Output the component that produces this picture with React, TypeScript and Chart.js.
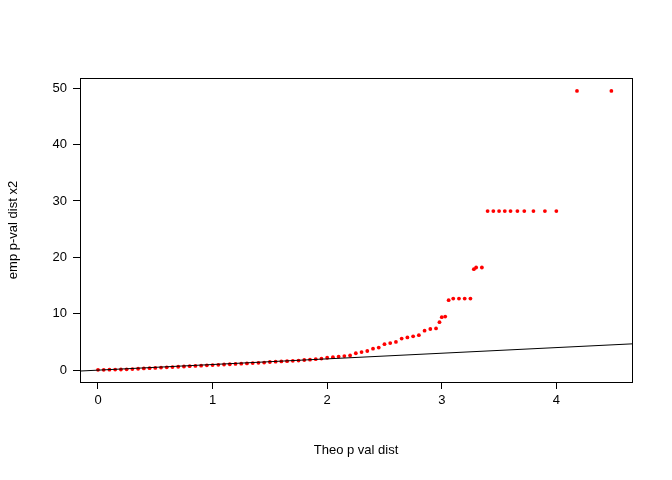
import React, { useEffect, useRef } from "react";
import { Chart, registerables } from "chart.js";

Chart.register(...registerables);

const theo = [
  0, 0.05, 0.1, 0.15, 0.2, 0.25, 0.3, 0.35, 0.4, 0.45, 0.5, 0.55, 0.6, 0.65, 0.7, 0.75, 0.8, 0.85, 0.9, 0.95,
  1.0, 1.05, 1.1, 1.15, 1.2, 1.25, 1.3, 1.35, 1.4, 1.45, 1.5, 1.55, 1.6, 1.65, 1.7, 1.75, 1.8, 1.85, 1.9, 1.95,
  2.0, 2.05, 2.1, 2.15, 2.2, 2.25, 2.3, 2.35, 2.4, 2.45, 2.5, 2.55, 2.6, 2.65, 2.7, 2.75, 2.8, 2.85, 2.9, 2.95,
  2.98, 3.0, 3.03, 3.06, 3.1, 3.15, 3.2, 3.25, 3.28, 3.3, 3.35,
  3.4, 3.45, 3.5, 3.55, 3.6, 3.66, 3.72, 3.8, 3.9, 4.0, 4.18, 4.48,
];
const emp = [
  0.05, 0.05, 0.08, 0.1, 0.12, 0.15, 0.2, 0.25, 0.3, 0.35, 0.4, 0.45, 0.5, 0.55, 0.6, 0.65, 0.7, 0.75, 0.8, 0.85,
  0.9, 0.95, 1.0, 1.05, 1.1, 1.15, 1.2, 1.25, 1.3, 1.35, 1.45, 1.5, 1.55, 1.6, 1.65, 1.7, 1.8, 1.85, 1.95, 2.05,
  2.2, 2.3, 2.4, 2.5, 2.6, 3.0, 3.2, 3.4, 3.8, 4.0, 4.6, 4.8, 5.0, 5.6, 5.8, 6.0, 6.2, 7.0, 7.3, 7.4,
  8.5, 9.4, 9.5, 12.4, 12.7, 12.7, 12.7, 12.7, 17.9, 18.2, 18.2,
  28.2, 28.2, 28.2, 28.2, 28.2, 28.2, 28.2, 28.2, 28.2, 28.2, 49.5, 49.5,
];
const refLineX = [-0.157, 4.66];
const xTicks = [0, 1, 2, 3, 4];
const yTicks = [0, 10, 20, 30, 40, 50];

const font = { family: "Liberation Sans, Arial, sans-serif", size: 13 };

const boxPlugin = {
  id: "box",
  afterDraw(chart: any) {
    const { ctx, chartArea: a } = chart;
    ctx.save();
    ctx.strokeStyle = "#000";
    ctx.lineWidth = 1;
    ctx.strokeRect(a.left + 0.5, a.top + 0.5, a.right - a.left, a.bottom - a.top);
    ctx.restore();
  },
};

export default function App() {
  const ref = useRef<HTMLCanvasElement | null>(null);

  useEffect(() => {
    document.body.style.margin = "0";
    if (!ref.current) return;
    const chart = new Chart(ref.current, {
      type: "scatter",
      data: {
        datasets: [
          {
            type: "line",
            data: refLineX.map((x) => ({ x, y: x })),
            borderColor: "#000",
            borderWidth: 1,
            pointRadius: 0,
          } as any,
          {
            data: theo.map((x, i) => ({ x, y: emp[i] })),
            backgroundColor: "#ff0000",
            borderColor: "#ff0000",
            pointRadius: 1.9,
            pointBorderWidth: 0,
          },
        ],
      },
      options: {
        responsive: false,
        animation: false,
        layout: { padding: { top: 78, right: 40, left: 0, bottom: 0 } },
        plugins: { legend: { display: false }, tooltip: { enabled: false } },
        scales: {
          x: {
            type: "linear",
            min: -0.157,
            max: 4.66,
            afterBuildTicks: (s: any) => { s.ticks = xTicks.map((v) => ({ value: v })); },
            afterFit: (s: any) => { s.height = 98; },
            grid: { drawOnChartArea: false, drawTicks: true, tickLength: 7, color: "#000" },
            border: { display: false },
            ticks: { color: "#000", font, padding: 4, maxRotation: 0 },
            title: { display: true, text: "Theo p val dist", color: "#000", font, padding: { top: 24, bottom: 22 } },
          },
          y: {
            type: "linear",
            min: -2.1,
            max: 51.8,
            afterBuildTicks: (s: any) => { s.ticks = yTicks.map((v) => ({ value: v })); },
            afterFit: (s: any) => { s.width = 80; },
            grid: { drawOnChartArea: false, drawTicks: true, tickLength: 7, color: "#000" },
            border: { display: false },
            ticks: { color: "#000", font, padding: 6, minRotation: 0, maxRotation: 0 },
            title: { display: true, text: "emp p-val dist x2", color: "#000", font, padding: { top: 6, bottom: 0 } },
          },
        },
      },
      plugins: [boxPlugin],
    });
    return () => chart.destroy();
  }, []);

  return <canvas ref={ref} width={672} height={480} style={{ display: "block" }} />;
}
